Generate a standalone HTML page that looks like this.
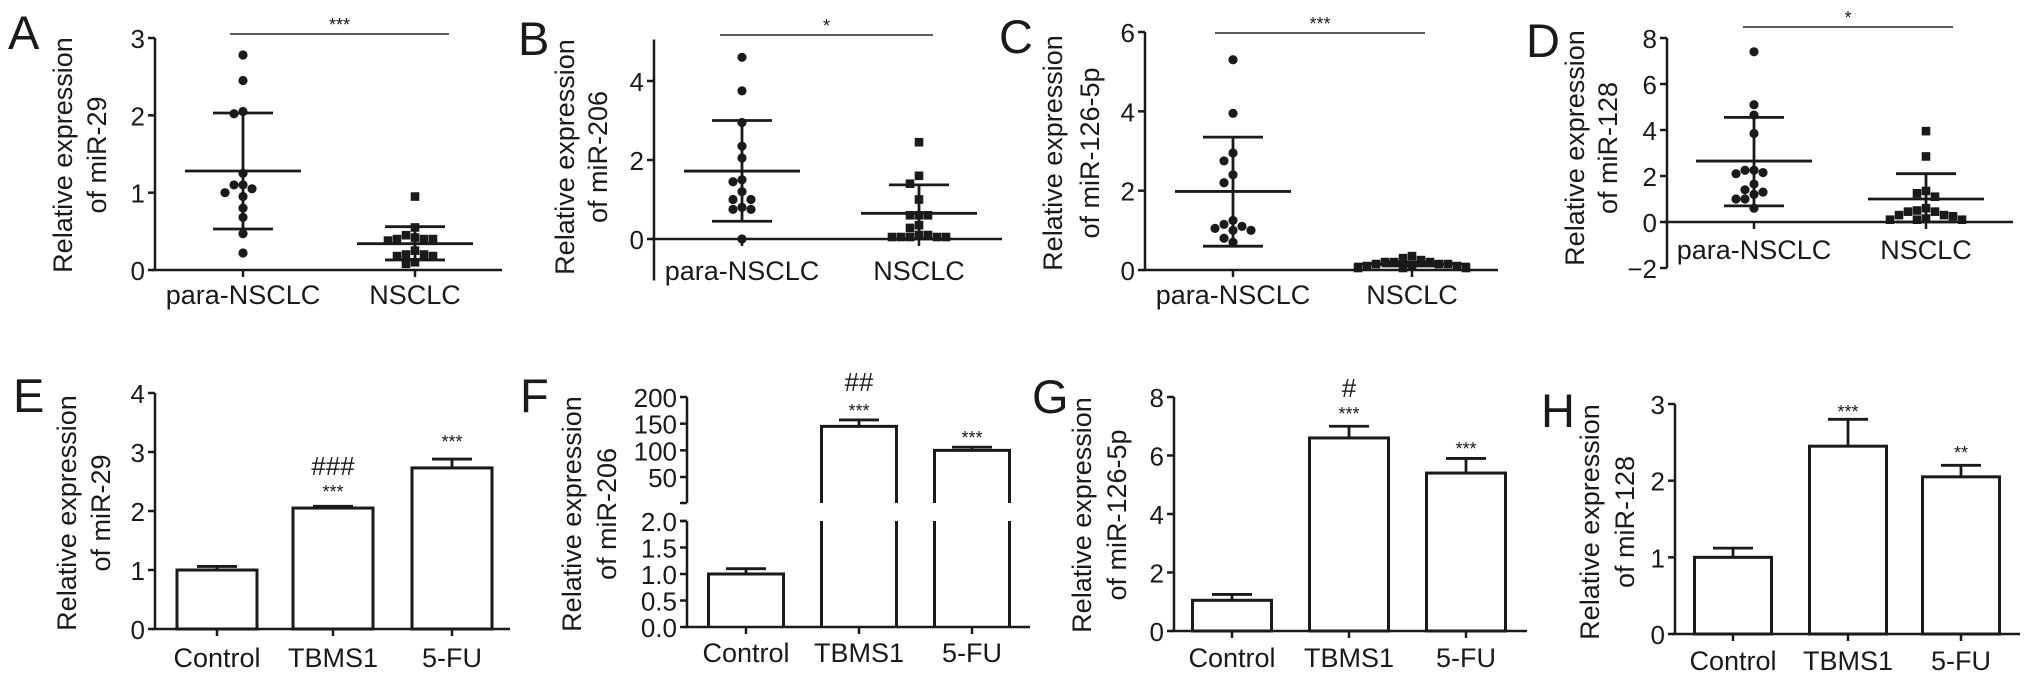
<!DOCTYPE html>
<html><head><meta charset="utf-8">
<style>
html,body{margin:0;padding:0;background:#fff;}
svg{display:block;}
text{font-family:"Liberation Sans",Arial,sans-serif;fill:#1a1a1a;}
</style></head>
<body>
<svg id="fig" width="2032" height="683" viewBox="0 0 2032 683" xmlns="http://www.w3.org/2000/svg"></svg>
<script>
// ---------- DATA ----------
const scatterCategories = ["para-NSCLC", "NSCLC"];
const aParaValues = [2.78, 2.45, 2.05, 2.02, 1.25, 1.1, 1.1, 1.05, 1.0, 0.95, 0.8, 0.68, 0.47, 0.22];
const aNsclcValues = [0.95, 0.55, 0.45, 0.42, 0.4, 0.4, 0.38, 0.4, 0.25, 0.2, 0.18, 0.18, 0.2, 0.1, 0.08];
const aMeans = [1.28, 0.34];
const aUpper = [2.03, 0.56];
const aLower = [0.53, 0.13];
const bParaValues = [4.6, 3.75, 2.95, 2.35, 2.05, 1.5, 1.45, 1.2, 1.0, 1.0, 0.75, 0.75, 0.8, 0.0];
const bNsclcValues = [2.45, 1.6, 1.4, 1.0, 0.6, 0.6, 0.6, 0.35, 0.28, 0.1, 0.05, 0.05, 0.05, 0.05, 0.05, 0.1];
const bMeans = [1.72, 0.65];
const bUpper = [3.0, 1.37];
const bLower = [0.45, 0.0];
const cParaValues = [5.3, 3.95, 2.95, 2.75, 2.4, 2.2, 1.25, 1.1, 1.05, 1.15, 1.0, 1.0, 0.8, 0.7];
const cNsclcValues = [0.35, 0.3, 0.25, 0.2, 0.2, 0.15, 0.15, 0.1, 0.1, 0.1, 0.05, 0.05, 0.05, 0.15, 0.2];
const cMeans = [1.98, 0.15];
const cUpper = [3.35, 0.2];
const cLower = [0.6, 0.1];
const dParaValues = [7.4, 5.1, 4.65, 3.85, 2.25, 2.25, 2.1, 2.15, 1.65, 1.4, 1.3, 1.2, 1.0, 1.0, 0.6];
const dNsclcValues = [3.95, 2.85, 1.35, 1.25, 1.1, 0.6, 0.5, 0.45, 0.45, 0.3, 0.25, 0.15, 0.1, 0.1, 0.1, 0.3];
const dMeans = [2.65, 1.0];
const dUpper = [4.55, 2.1];
const dLower = [0.7, 0.0];

const barCategories = ["Control", "TBMS1", "5-FU"];
const eValues = [1.0, 2.05, 2.73];
const eErrors = [0.06, 0.03, 0.15];
const fValues = [1.0, 145, 100];
const fErrors = [0.1, 12, 6];
const gValues = [1.05, 6.6, 5.4];
const gErrors = [0.2, 0.4, 0.5];
const hValues = [1.0, 2.45, 2.05];
const hErrors = [0.12, 0.35, 0.15];

const aTicks = [0, 1, 2, 3];
const bTicks = [0, 2, 4];
const cTicks = [0, 2, 4, 6];
const dTicks = [-2, 0, 2, 4, 6, 8];
const eTicks = [0, 1, 2, 3, 4];
const fLowerTicks = [0, 0.5, 1.0, 1.5, 2.0];
const fLowerTickLabels = ["0.0", "0.5", "1.0", "1.5", "2.0"];
const fUpperTicks = [50, 100, 150, 200];
const gTicks = [0, 2, 4, 6, 8];
const hTicks = [0, 1, 2, 3];

// ---------- HELPERS ----------
const NS = "http://www.w3.org/2000/svg";
const fig = document.getElementById("fig");
function mk(parent, tag, attrs, txt) {
  const e = document.createElementNS(NS, tag);
  for (const k in attrs) e.setAttribute(k, attrs[k]);
  if (txt !== undefined) e.textContent = txt;
  parent.appendChild(e);
  return e;
}
function lin(v0, p0, v1, p1) { return v => p0 + (v - v0) * (p1 - p0) / (v1 - v0); }
const INK = "#1a1a1a";

function panelGroup(name) {
  const g = mk(fig, "g", {});
  
  
  return g;
}
function letter(g, t, x, y) {
  const e = mk(g, "text", {x: x, y: y, "font-size": 47}, t);
  
  
}
function yTitle(g, x1, x2, cy, line2) {
  const t1 = mk(g, "text", {x: 0, y: 0, "font-size": 27, "text-anchor": "middle", "dominant-baseline": "central", transform: `translate(${x1},${cy}) rotate(-90)`}, "Relative expression");
  
  
  const t2 = mk(g, "text", {x: 0, y: 0, "font-size": 27, "text-anchor": "middle", "dominant-baseline": "central", transform: `translate(${x2},${cy}) rotate(-90)`}, line2);
  
  
}
function yTicks(g, ax, ys, ticks, labels) {
  ticks.forEach((v, i) => {
    const y = ys(v);
    const l = mk(g, "line", {x1: ax - 7, x2: ax, y1: y, y2: y, stroke: INK, "stroke-width": 2.5});
    
    
    const lab = labels ? labels[i] : (v < 0 ? "\u2212" + Math.abs(v) : String(v));
    const t = mk(g, "text", {x: ax - 10, y: y + 1, "font-size": 26, "text-anchor": "end", "dominant-baseline": "central"}, lab);
    
    
  });
}
function xCats(g, xs, tickY, labelY, cats) {
  cats.forEach((c, i) => {
    const l = mk(g, "line", {x1: xs[i], x2: xs[i], y1: tickY, y2: tickY + 7, stroke: INK, "stroke-width": 2.5});
    
    
    const t = mk(g, "text", {x: xs[i], y: labelY, "font-size": 27, "text-anchor": "middle"}, c);
    
    
  });
}
function swarm(vals, ys, cx, d) {
  const placed = [];
  const sorted = vals.map((v, i) => ({v, i})).sort((a, b) => b.v - a.v);
  const res = [];
  sorted.forEach(o => {
    const y = ys(o.v);
    const cand = [0];
    for (let k = 1; k < 8; k++) { cand.push(-k * d, k * d); }
    for (const off of cand) {
      const x = cx + off;
      if (placed.every(p => Math.hypot(p.x - x, p.y - y) >= d - 0.5)) {
        placed.push({x, y}); res.push({x, y, v: o.v}); break;
      }
    }
  });
  return res;
}

// ---------- SCATTER PANELS ----------
function scatterPanel(c) {
  const g = panelGroup(c.name);
  letter(g, c.letter, c.lx, c.ly);
  yTitle(g, c.t1, c.t2, c.tcy, c.title2);
  const ys = lin(c.v0, c.p0, c.v1, c.p1);
  const ya = mk(g, "line", {x1: c.ax, x2: c.ax, y1: ys(c.axTop), y2: ys(c.axBot), stroke: INK, "stroke-width": 2.5});
  
  
  yTicks(g, c.ax, ys, c.ticks);
  const xa = mk(g, "line", {x1: c.ax - 3, x2: c.xEnd, y1: ys(0), y2: ys(0), stroke: INK, "stroke-width": 2.5});
  
  
  xCats(g, c.xs, ys(0), c.catY, scatterCategories);
  [c.g1, c.g2].forEach((vals, gi) => {
    const pts = swarm(vals, ys, c.xs[gi], 9);
    pts.forEach(p => {
      let m;
      if (gi === 0) {
        m = mk(g, "circle", {cx: p.x, cy: p.y, r: 4.6, fill: INK});
        
      } else {
        m = mk(g, "rect", {x: p.x - 4.3, y: p.y - 4.3, width: 8.6, height: 8.6, fill: INK});
        
      }
      
    });
    const cx = c.xs[gi];
    const v = mk(g, "line", {x1: cx, x2: cx, y1: ys(c.upper[gi]), y2: ys(c.lower[gi]), stroke: INK, "stroke-width": 2.8});
    
    
    [c.upper[gi], c.lower[gi]].forEach(val => {
      const cap = mk(g, "line", {x1: cx - 30, x2: cx + 30, y1: ys(val), y2: ys(val), stroke: INK, "stroke-width": 2.8});
      
      
    });
    const mean = mk(g, "line", {x1: cx - 58, x2: cx + 58, y1: ys(c.means[gi]), y2: ys(c.means[gi]), stroke: INK, "stroke-width": 2.8});
    
    
  });
  const s = mk(g, "line", {x1: c.sx1, x2: c.sx2, y1: c.sy, y2: c.sy, stroke: "#444", "stroke-width": 1.8});
  
  
  const st = mk(g, "text", {x: (c.sx1 + c.sx2) / 2, y: c.sy - 3, "font-size": 18, "text-anchor": "middle"}, c.star);
  
  
}

scatterPanel({name: "panel-a", letter: "A", lx: 8, ly: 49, t1: 63, t2: 97, tcy: 155, title2: "of miR-29",
  v0: 0, p0: 270, v1: 3, p1: 38, ax: 155, axTop: 3, axBot: 0, xEnd: 502, ticks: aTicks,
  xs: [243, 415], catY: 304, g1: aParaValues, g2: aNsclcValues, means: aMeans, upper: aUpper, lower: aLower,
  sx1: 230, sx2: 449, sy: 34, star: "***"});
scatterPanel({name: "panel-b", letter: "B", lx: 518, ly: 55, t1: 565, t2: 598, tcy: 157, title2: "of miR-206",
  v0: 0, p0: 239, v1: 4, p1: 81, ax: 654, axTop: 5.05, axBot: -1.05, xEnd: 1002, ticks: bTicks,
  xs: [742, 919], catY: 280, g1: bParaValues, g2: bNsclcValues, means: bMeans, upper: bUpper, lower: bLower,
  sx1: 720, sx2: 933, sy: 35, star: "*"});
scatterPanel({name: "panel-c", letter: "C", lx: 999, ly: 53, t1: 1053, t2: 1090, tcy: 153, title2: "of miR-126-5p",
  v0: 0, p0: 270, v1: 6, p1: 32, ax: 1145, axTop: 6, axBot: 0, xEnd: 1498, ticks: cTicks,
  xs: [1233, 1412], catY: 304, g1: cParaValues, g2: cNsclcValues, means: cMeans, upper: cUpper, lower: cLower,
  sx1: 1215, sx2: 1425, sy: 33, star: "***"});
scatterPanel({name: "panel-d", letter: "D", lx: 1526, ly: 57, t1: 1575, t2: 1608, tcy: 148, title2: "of miR-128",
  v0: 0, p0: 222, v1: 8, p1: 38, ax: 1667, axTop: 8, axBot: -2, xEnd: 2013, ticks: dTicks,
  xs: [1754, 1926], catY: 259, g1: dParaValues, g2: dNsclcValues, means: dMeans, upper: dUpper, lower: dLower,
  sx1: 1743, sx2: 1953, sy: 27, star: "*"});

// ---------- BAR PANELS ----------
function barPanel(c) {
  const g = panelGroup(c.name);
  letter(g, c.letter, c.lx, c.ly);
  yTitle(g, c.t1, c.t2, c.tcy, c.title2);
  const ys = lin(c.v0, c.p0, c.v1, c.p1);
  const y0 = ys(0);
  const ya = mk(g, "line", {x1: c.ax, x2: c.ax, y1: ys(c.ticks[c.ticks.length - 1]), y2: y0, stroke: INK, "stroke-width": 2.5});
  
  
  yTicks(g, c.ax, ys, c.ticks);
  const xa = mk(g, "line", {x1: c.ax - 3, x2: c.xEnd, y1: y0, y2: y0, stroke: INK, "stroke-width": 2.5});
  
  
  c.values.forEach((v, i) => {
    const cx = c.xs[i], hw = c.bw / 2, top = ys(v);
    const eb = mk(g, "line", {x1: cx, x2: cx, y1: top, y2: ys(v + c.errors[i]), stroke: INK, "stroke-width": 2.8});
    
    
    const cap = mk(g, "line", {x1: cx - 20, x2: cx + 20, y1: ys(v + c.errors[i]), y2: ys(v + c.errors[i]), stroke: INK, "stroke-width": 2.8});
    
    
    const r = mk(g, "rect", {x: cx - hw, y: top, width: c.bw, height: y0 - top, fill: "#fff", stroke: INK, "stroke-width": 3});
    
    
  });
  xCats(g, c.xs, y0, c.catY, barCategories);
  c.annots.forEach(a => {
    const t = mk(g, "text", {x: c.xs[a[0]], y: a[1], "font-size": a[3], "text-anchor": "middle", "dominant-baseline": "central"}, a[2]);
    
    
  });
}

barPanel({name: "panel-e", letter: "E", lx: 13, ly: 412, t1: 67, t2: 101, tcy: 513, title2: "of miR-29",
  v0: 0, p0: 629, v1: 4, p1: 393, ax: 155, xEnd: 510, ticks: eTicks, xs: [217, 333, 452], bw: 80, catY: 667,
  values: eValues, errors: eErrors,
  annots: [[1, 466, "###", 26], [1, 492, "***", 18], [2, 442, "***", 18]]});
barPanel({name: "panel-g", letter: "G", lx: 1032, ly: 413, t1: 1082, t2: 1117, tcy: 515, title2: "of miR-126-5p",
  v0: 0, p0: 631, v1: 8, p1: 397, ax: 1174, xEnd: 1527, ticks: gTicks, xs: [1232, 1349, 1466], bw: 79, catY: 667,
  values: gValues, errors: gErrors,
  annots: [[1, 388, "#", 26], [1, 414, "***", 18], [2, 449, "***", 18]]});
barPanel({name: "panel-h", letter: "H", lx: 1541, ly: 427, t1: 1590, t2: 1625, tcy: 522, title2: "of miR-128",
  v0: 0, p0: 634, v1: 3, p1: 404, ax: 1675, xEnd: 2020, ticks: hTicks, xs: [1733, 1848, 1961], bw: 77, catY: 670,
  values: hValues, errors: hErrors,
  annots: [[1, 412, "***", 18], [2, 453, "**", 18]]});

// ---------- PANEL F (broken axis) ----------
(function () {
  const g = panelGroup("panel-f");
  letter(g, "F", 520, 412);
  yTitle(g, 572, 607, 514, "of miR-206");
  const ax = 687, xs = [746, 859, 972], bw = 75, xEnd = 1030;
  const yLow = lin(0, 627, 2, 521);
  const yUp = lin(50, 477, 200, 397);
  const lowTop = 521, upBot = 503;
  const ys = v => (v <= 2 ? yLow(v) : yUp(v));
  const a1 = mk(g, "line", {x1: ax, x2: ax, y1: lowTop, y2: yLow(0), stroke: INK, "stroke-width": 2.5});
  
  
  const a2 = mk(g, "line", {x1: ax, x2: ax, y1: yUp(200), y2: upBot, stroke: INK, "stroke-width": 2.5});
  
  
  [lowTop, upBot].forEach(y => {
    const t = mk(g, "line", {x1: ax - 7, x2: ax, y1: y, y2: y, stroke: INK, "stroke-width": 2.5});
    
    
  });
  yTicks(g, ax, yLow, fLowerTicks, fLowerTickLabels);
  yTicks(g, ax, yUp, fUpperTicks);
  const xa = mk(g, "line", {x1: ax - 3, x2: xEnd, y1: yLow(0), y2: yLow(0), stroke: INK, "stroke-width": 2.5});
  
  
  fValues.forEach((v, i) => {
    const cx = xs[i], hw = bw / 2, y0 = yLow(0);
    const eTop = ys(v + fErrors[i]);
    const eb = mk(g, "line", {x1: cx, x2: cx, y1: ys(v), y2: eTop, stroke: INK, "stroke-width": 2.8});
    
    
    const cap = mk(g, "line", {x1: cx - 20, x2: cx + 20, y1: eTop, y2: eTop, stroke: INK, "stroke-width": 2.8});
    
    
    let d;
    if (v <= 2) {
      d = `M${cx - hw},${y0} V${yLow(v)} H${cx + hw} V${y0}`;
    } else {
      const t = yUp(v);
      d = `M${cx - hw},${y0} V${lowTop} M${cx + hw},${y0} V${lowTop} M${cx - hw},${upBot} V${t} H${cx + hw} V${upBot}`;
    }
    const bar = mk(g, "path", {d: d, fill: "none", stroke: INK, "stroke-width": 3});
    
    
  });
  xCats(g, xs, yLow(0), 662, barCategories);
  [[1, 382, "##", 26], [1, 411, "***", 18], [2, 438, "***", 18]].forEach(a => {
    const t = mk(g, "text", {x: xs[a[0]], y: a[1], "font-size": a[3], "text-anchor": "middle", "dominant-baseline": "central"}, a[2]);
    
    
  });
})();
</script>
</body></html>
